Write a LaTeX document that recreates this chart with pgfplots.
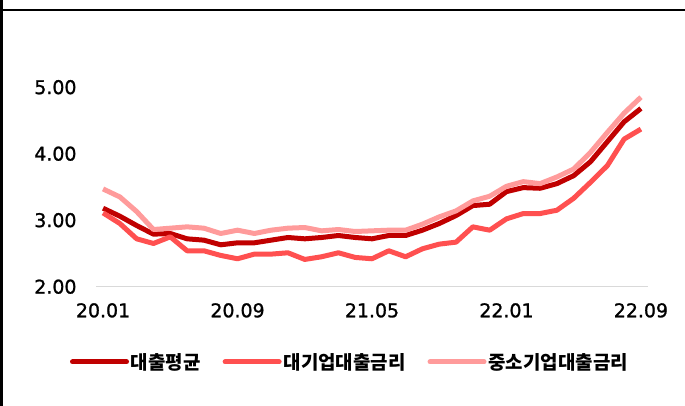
\documentclass[border=0pt]{standalone}
\usepackage{pgfplots}
\pgfplotsset{compat=1.18}
\usepackage{fontspec}
\setmainfont{DejaVu Sans}[BoldFont={DejaVu Sans}, BoldFeatures={FakeBold=1.2}]
\newfontfamily\kr{Noto Sans CJK KR}
\definecolor{cA}{HTML}{C00000}
\definecolor{cB}{HTML}{FF5050}
\definecolor{cC}{HTML}{FF9B9B}
\begin{document}
\begin{tikzpicture}
\path[use as bounding box] (0,0) rectangle (685bp,406bp);
\draw[line width=2bp] (1.5bp,0) -- (1.5bp,406bp);
\draw[line width=2bp] (0,396bp) -- (685bp,396bp);
\begin{axis}[
  at={(96bp,119.3bp)}, anchor=south west,
  scale only axis, width=552bp, height=199.5bp,
  xmin=-0.42, xmax=32.42, ymin=2, ymax=5,
  clip=false,
  axis lines*=left,
  x axis line style={draw=black!15, line width=1.5bp, -},
  y axis line style={draw=none},
  major tick length=0pt,
  xtick={0,8,16,24,32},
  xticklabels={20.01,20.09,21.05,22.01,22.09},
  ytick={2,3,4,5},
  /pgf/number format/assume math mode=true,
  /pgf/number format/fixed,
  /pgf/number format/fixed zerofill,
  /pgf/number format/precision=2,
  tick label style={font=\bfseries\fontsize{19}{21}\selectfont, text=black},
  yticklabel style={xshift=-16bp},
  xticklabel style={yshift=-13bp},
  legend columns=3,
  legend style={at={(0.460,-0.377)}, anchor=center, draw=none, fill=none,
    font=\kr\bfseries\fontsize{19}{22}\selectfont, inner sep=0pt,
    /tikz/every even column/.append style={column sep=20bp}},
  legend image code/.code={\draw[#1, line cap=round] (0bp,0bp) -- (54bp,0bp);},
  every axis plot/.append style={line width=5bp, line join=round, mark=none},
]
\addplot[cA] coordinates {
(0,3.18)(1,3.06)(2,2.92)(3,2.79)(4,2.80)(5,2.72)(6,2.70)(7,2.63)(8,2.66)(9,2.66)
(10,2.70)(11,2.74)(12,2.72)(13,2.74)(14,2.77)(15,2.74)(16,2.72)(17,2.77)(18,2.77)(19,2.85)
(20,2.95)(21,3.07)(22,3.22)(23,3.24)(24,3.43)(25,3.49)(26,3.48)(27,3.55)(28,3.67)(29,3.88)
(30,4.18)(31,4.48)(32,4.68)};
\addlegendentry{대출평균}
\addplot[cB] coordinates {
(0,3.11)(1,2.95)(2,2.72)(3,2.65)(4,2.75)(5,2.54)(6,2.54)(7,2.47)(8,2.42)(9,2.49)
(10,2.49)(11,2.51)(12,2.41)(13,2.45)(14,2.51)(15,2.44)(16,2.42)(17,2.54)(18,2.45)(19,2.57)
(20,2.64)(21,2.67)(22,2.90)(23,2.85)(24,3.02)(25,3.10)(26,3.10)(27,3.15)(28,3.33)(29,3.57)
(30,3.82)(31,4.22)(32,4.37)};
\addlegendentry{대기업대출금리}
\addplot[cC] coordinates {
(0,3.47)(1,3.35)(2,3.13)(3,2.86)(4,2.88)(5,2.90)(6,2.88)(7,2.80)(8,2.85)(9,2.80)
(10,2.85)(11,2.88)(12,2.89)(13,2.84)(14,2.86)(15,2.83)(16,2.84)(17,2.85)(18,2.85)(19,2.94)
(20,3.05)(21,3.14)(22,3.29)(23,3.36)(24,3.51)(25,3.58)(26,3.55)(27,3.65)(28,3.77)(29,4.02)
(30,4.32)(31,4.61)(32,4.85)};
\addlegendentry{중소기업대출금리}
\end{axis}
\end{tikzpicture}
\end{document}
